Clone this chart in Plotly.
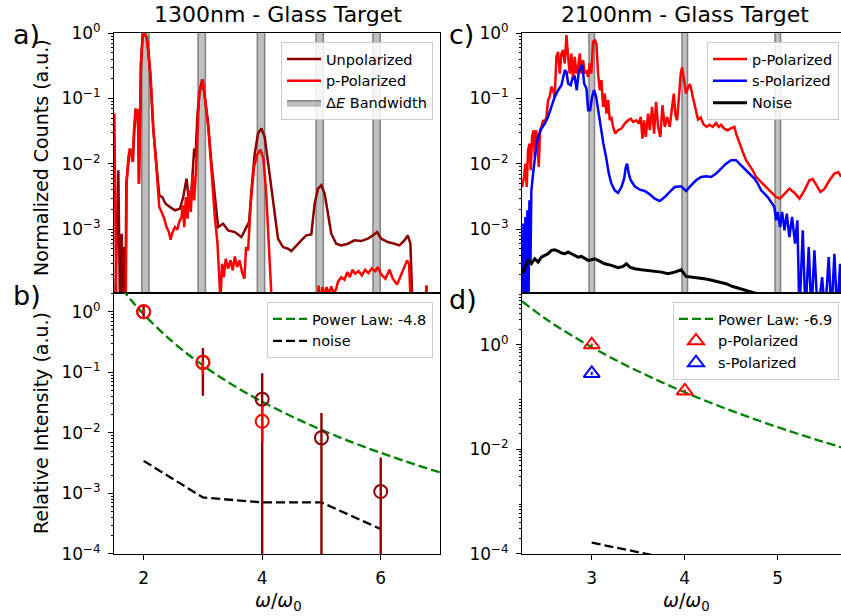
import plotly.graph_objects as go

W, H = 841, 616
FONT = "DejaVu Sans"
DARKRED = "#8b0000"
RED = "#ff0000"
BLUE = "#0000ff"
GREEN = "#008000"
BLACK = "#000000"

# ---------------- Panel a : 1300 nm spectra ----------------
a_unpol_x = [1.517, 1.573, 1.602, 1.630, 1.658, 1.675, 1.691, 1.708, 1.742, 1.770,
             1.798, 1.820, 1.843, 1.865, 1.893, 1.910, 1.921, 1.938, 1.955, 1.983,
             2.022, 2.056, 2.107, 2.163, 2.219, 2.264, 2.314, 2.370, 2.443, 2.528,
             2.612, 2.668, 2.724, 2.763, 2.808, 2.853, 2.875, 2.909, 2.948, 2.988,
             3.033, 3.089, 3.145, 3.201, 3.257, 3.341, 3.425, 3.538, 3.650, 3.734,
             3.779, 3.818, 3.874, 3.930, 3.987, 4.043, 4.099, 4.155, 4.183, 4.211,
             4.267, 4.351, 4.436, 4.492, 4.576, 4.660, 4.744, 4.829, 4.885, 4.941,
             4.997, 5.053, 5.110, 5.166, 5.249, 5.333, 5.446, 5.558, 5.670, 5.782,
             5.867, 5.940, 6.007, 6.120, 6.231, 6.316, 6.400, 6.456, 6.501, 6.540,
             6.748, 6.770, 6.793]
a_unpol_y = [5e-5, 0.00798, 5e-5, 0.000855, 5e-5, 0.000534, 5e-5, 0.00499, 0.0101, 0.0171,
             0.01436, 0.0107, 0.0327, 0.0662, 0.0662, 0.0327, 0.00499, 0.106, 0.343, 0.879,
             0.965, 0.829, 0.271, 0.0327, 0.00798, 0.0033, 0.00311, 0.00246, 0.00219, 0.00195,
             0.00206, 0.00311, 0.00594, 0.00277, 0.00394, 0.0171, 0.01277, 0.0588, 0.134, 0.195,
             0.106, 0.0414, 0.0101, 0.00311, 0.00108, 0.00122, 0.000961, 0.000906, 0.00076, 0.00108,
             0.00129, 0.00394, 0.01436, 0.0291, 0.0347, 0.0258, 0.0101, 0.00394, 0.00246, 0.00154,
             0.000717, 0.000534, 0.000504, 0.000464, 0.000566, 0.000676, 0.000806, 0.000835, 0.00246, 0.00418,
             0.0047, 0.00351, 0.00173, 0.000855, 0.000601, 0.000566, 0.000601, 0.000676, 0.00066, 0.000717,
             0.000806, 0.000906, 0.000717, 0.000637, 0.000601, 0.000566, 0.000676, 0.000806, 0.000601, 5e-5,
             5e-5, 0.000138, 5e-5]

a_ppol_x = [1.506, 1.540, 1.697, 1.714, 1.742, 1.770, 1.798, 1.815, 1.837, 1.865,
            1.893, 1.910, 1.921, 1.938, 1.955, 1.983, 2.011, 2.045, 2.079, 2.118,
            2.163, 2.219, 2.264, 2.303, 2.348, 2.387, 2.426, 2.455, 2.483, 2.528,
            2.567, 2.600, 2.640, 2.662, 2.685, 2.713, 2.741, 2.769, 2.797, 2.825,
            2.853, 2.881, 2.909, 2.937, 2.965, 2.999, 3.044, 3.089, 3.145, 3.201,
            3.246, 3.268, 3.296, 3.324, 3.352, 3.386, 3.425, 3.465, 3.504, 3.538,
            3.577, 3.616, 3.661, 3.700, 3.728, 3.762, 3.807, 3.863, 3.919, 3.970,
            4.020, 4.065, 4.104, 4.138, 4.172, 4.929, 4.952, 4.980, 5.013, 5.053,
            5.087, 5.121, 5.166, 5.211, 5.249, 5.277, 5.333, 5.390, 5.435, 5.479,
            5.524, 5.569, 5.625, 5.681, 5.737, 5.793, 5.849, 5.906, 5.951, 6.007,
            6.080, 6.147, 6.204, 6.276, 6.344, 6.400, 6.445, 6.479, 6.512, 6.754,
            6.770, 6.793]
a_ppol_y = [0.0588, 5e-5, 5e-5, 0.00529, 0.01277, 0.0171, 0.014, 0.0107, 0.0327, 0.0678,
            0.0662, 0.0327, 0.00499, 0.106, 0.343, 0.932, 0.99, 0.879, 0.549, 0.215,
            0.0368, 0.00798, 0.00219, 0.00184, 0.00145, 0.00108, 0.000906, 0.000692, 0.000875, 0.00108,
            0.000984, 0.00129, 0.00154, 0.00232, 0.00108, 0.00311, 0.00145, 0.00394, 0.00184, 0.0071,
            0.00277, 0.0071, 0.0414, 0.126, 0.142, 0.195, 0.0837, 0.0368, 0.00798, 0.00154,
            0.000601, 0.000235, 8e-5, 0.000297, 0.000185, 0.000354, 0.000249, 0.000334, 0.000235, 0.000384,
            0.000264, 0.000334, 0.000221, 0.000175, 0.000534, 0.000475, 0.00246, 0.00897, 0.014, 0.0165,
            0.012, 0.00394, 0.000855, 0.000235, 5e-5, 5e-5, 0.000138, 5e-5, 0.00013, 0.000103,
            0.00013, 0.000103, 0.000134, 0.000103, 0.000123, 0.000156, 0.000185, 0.000169, 0.000221, 0.000185,
            0.00024, 0.000209, 0.000229, 0.000197, 0.00024, 0.000214, 0.000252, 0.000229, 0.000264, 0.000204,
            0.000175, 0.00024, 0.000175, 0.000143, 0.000197, 0.000258, 0.000334, 0.000297, 5e-5, 5e-5,
            0.000138, 5e-5]

a_band_centers = [2.03, 2.98, 3.98, 4.97, 5.93]
a_band_halfwidth = 0.062

# ---------------- Panel b : 1300 nm harmonic intensities ----------------
b_unpol_x = [2, 3, 4, 5, 6]
b_unpol_y = [1.0, 0.146, 0.036, 0.00826, 0.00107]
b_unpol_err = [0.24, 0.105, 0.06, 0.013, 0.00285]
b_ppol_x = [2, 3, 4]
b_ppol_y = [1.0, 0.146, 0.0155]
b_ppol_err_plus = [0.08, 0.01, 0.0125]
b_ppol_err_minus = [0.08, 0.055, 0.0085]
b_fit_x = [1.5, 1.75, 2, 2.5, 3, 3.5, 4, 4.5, 5, 5.5, 6, 6.5, 7]
b_fit_y = [3.6, 1.73, 0.91, 0.312, 0.130, 0.062, 0.0327, 0.0186, 0.0112, 0.00708, 0.00467, 0.00318, 0.00222]
b_noise_x = [2, 3, 4, 5, 6]
b_noise_y = [0.00344, 0.000855, 0.000708, 0.000708, 0.000257]

# ---------------- Panel c : 2100 nm spectra ----------------
c_ppol_x = [2.251, 2.272, 2.287, 2.301, 2.315, 2.330, 2.344, 2.358, 2.373, 2.387,
            2.401, 2.416, 2.430, 2.444, 2.459, 2.477, 2.495, 2.513, 2.530, 2.548,
            2.566, 2.584, 2.602, 2.620, 2.638, 2.656, 2.674, 2.692, 2.710, 2.728,
            2.746, 2.763, 2.781, 2.799, 2.817, 2.835, 2.853, 2.871, 2.889, 2.907,
            2.925, 2.943, 2.961, 2.978, 2.996, 3.014, 3.032, 3.050, 3.068, 3.086,
            3.104, 3.122, 3.140, 3.158, 3.176, 3.194, 3.211, 3.229, 3.254, 3.283,
            3.319, 3.355, 3.391, 3.419, 3.444, 3.480, 3.505, 3.527, 3.545, 3.563,
            3.581, 3.606, 3.624, 3.649, 3.670, 3.692, 3.713, 3.738, 3.760, 3.785,
            3.810, 3.839, 3.864, 3.882, 3.900, 3.918, 3.957, 3.971, 3.993, 4.014,
            4.036, 4.057, 4.086, 4.115, 4.143, 4.172, 4.201, 4.237, 4.265, 4.301,
            4.337, 4.366, 4.391, 4.427, 4.463, 4.498, 4.534, 4.552, 4.581, 4.606,
            4.624, 4.659, 4.695, 4.731, 4.767, 4.821, 4.874, 4.928, 4.982, 5.025,
            5.072, 5.125, 5.179, 5.233, 5.287, 5.340, 5.376, 5.412, 5.459, 5.502,
            5.556, 5.609, 5.652, 5.681]
c_ppol_y = [0.00443, 0.00631, 0.0101, 0.00443, 0.0162, 0.0204, 0.00798, 0.0258, 0.0327, 0.01277,
            0.0327, 0.023, 0.00897, 0.0327, 0.0368, 0.0465, 0.0439, 0.0523, 0.0942, 0.106,
            0.151, 0.134, 0.106, 0.434, 0.518, 0.241, 0.488, 0.549, 0.343, 0.932,
            0.434, 0.241, 0.488, 0.191, 0.434, 0.241, 0.305, 0.488, 0.241, 0.386,
            0.241, 0.271, 0.214, 0.343, 0.241, 0.737, 0.782, 0.695, 0.241, 0.134,
            0.191, 0.0744, 0.119, 0.0588, 0.0942, 0.0465, 0.0523, 0.0368, 0.0291, 0.0327,
            0.0347, 0.0414, 0.0465, 0.0493, 0.0439, 0.0465, 0.0414, 0.0523, 0.0244, 0.0465,
            0.0258, 0.0588, 0.0327, 0.0744, 0.0291, 0.0888, 0.0368, 0.0258, 0.0789, 0.0368,
            0.0523, 0.0368, 0.0744, 0.119, 0.0555, 0.0465, 0.241, 0.298, 0.191, 0.119,
            0.151, 0.166, 0.106, 0.0662, 0.0476, 0.0511, 0.0404, 0.0368, 0.0395, 0.0368,
            0.0423, 0.0368, 0.0395, 0.0343, 0.0327, 0.0351, 0.0368, 0.0291, 0.023, 0.0177,
            0.0152, 0.0114, 0.0095, 0.00798, 0.00631, 0.00529, 0.00443, 0.00372, 0.00311, 0.00294,
            0.00351, 0.00418, 0.00363, 0.00294, 0.00394, 0.00561, 0.00588, 0.00487, 0.00372, 0.00413,
            0.00561, 0.0071, 0.00752, 0.00631]

c_spol_x = [2.255, 2.265, 2.276, 2.287, 2.298, 2.308, 2.319, 2.330, 2.341, 2.351,
            2.369, 2.387, 2.405, 2.423, 2.441, 2.459, 2.495, 2.530, 2.566, 2.602,
            2.638, 2.674, 2.710, 2.728, 2.746, 2.774, 2.792, 2.817, 2.839, 2.860,
            2.882, 2.900, 2.918, 2.943, 2.961, 2.982, 3.004, 3.025, 3.047, 3.068,
            3.097, 3.125, 3.154, 3.183, 3.211, 3.247, 3.283, 3.319, 3.348, 3.366,
            3.380, 3.398, 3.419, 3.462, 3.516, 3.570, 3.624, 3.677, 3.731, 3.785,
            3.839, 3.892, 3.961, 4.014, 4.068, 4.122, 4.176, 4.229, 4.283, 4.337,
            4.391, 4.444, 4.498, 4.552, 4.606, 4.659, 4.713, 4.749, 4.785, 4.821,
            4.857, 4.892, 4.928, 4.964, 4.982, 5.000, 5.025, 5.047, 5.072, 5.097,
            5.125, 5.154, 5.186, 5.211, 5.233, 5.269, 5.298, 5.333, 5.362, 5.394,
            5.430, 5.477, 5.509, 5.548, 5.577, 5.609, 5.638, 5.670, 5.688]
c_spol_y = [5e-5, 0.00122, 5e-5, 0.00154, 5e-5, 0.00195, 5e-5, 0.00277, 0.000297, 0.00394,
            0.0071, 0.01277, 0.0193, 0.0258, 0.0308, 0.0347, 0.0414, 0.0523, 0.0744, 0.106,
            0.134, 0.16, 0.271, 0.256, 0.17, 0.16, 0.202, 0.214, 0.134, 0.256,
            0.305, 0.324, 0.17, 0.142, 0.0662, 0.0662, 0.106, 0.134, 0.106, 0.0662,
            0.0368, 0.0204, 0.01277, 0.0071, 0.00499, 0.00394, 0.00359, 0.00443, 0.00594, 0.00897,
            0.0101, 0.0071, 0.00561, 0.00454, 0.00403, 0.00385, 0.00342, 0.00294, 0.0027, 0.00311,
            0.00372, 0.00443, 0.00454, 0.00385, 0.0047, 0.00561, 0.00631, 0.00646, 0.00631, 0.0071,
            0.00846, 0.0101, 0.0114, 0.0114, 0.0095, 0.00798, 0.00693, 0.00594, 0.00499, 0.00394,
            0.00351, 0.00311, 0.00261, 0.00219, 0.00137, 0.00184, 0.00108, 0.00184, 0.000961, 0.00173,
            0.00076, 0.00154, 0.000601, 0.00137, 5e-5, 0.000961, 5e-5, 0.000534, 5e-5, 0.000475,
            5e-5, 0.000185, 5e-5, 0.000375, 5e-5, 0.000422, 5e-5, 0.000297, 5e-5]

c_noise_x = [2.251, 2.280, 2.315, 2.351, 2.387, 2.423, 2.459, 2.495, 2.530, 2.566,
             2.602, 2.638, 2.674, 2.710, 2.746, 2.781, 2.817, 2.853, 2.889, 2.925,
             2.961, 2.996, 3.032, 3.068, 3.104, 3.140, 3.211, 3.283, 3.337, 3.373,
             3.409, 3.462, 3.534, 3.606, 3.677, 3.749, 3.821, 3.892, 3.961, 4.014,
             4.086, 4.158, 4.229, 4.301, 4.373, 4.444, 4.516, 4.588, 4.659, 4.731,
             4.803, 4.875, 4.982]
c_noise_y = [0.000209, 0.000264, 0.000334, 0.000297, 0.000354, 0.000315, 0.000375, 0.000398, 0.000422, 0.000475,
             0.000486, 0.000464, 0.000432, 0.000422, 0.000448, 0.000422, 0.000398, 0.000375, 0.000384, 0.000354,
             0.000334, 0.000342, 0.000354, 0.000334, 0.000315, 0.000297, 0.00028, 0.000258, 0.00027, 0.000297,
             0.000264, 0.000249, 0.00024, 0.000235, 0.000229, 0.000221, 0.000209, 0.000221, 0.00024, 0.00019,
             0.000185, 0.000181, 0.000173, 0.000165, 0.000156, 0.000147, 0.000133, 0.000123, 0.000116, 0.000108,
             0.000101, 8e-5, 6e-5]

c_band_centers = [3.0, 4.0, 5.0]
c_band_halfwidth = 0.03

# ---------------- Panel d : 2100 nm harmonic intensities ----------------
d_fit_x = [2.25, 2.5, 2.75, 3, 3.25, 3.5, 3.75, 4, 4.25, 4.5, 4.75, 5, 5.25, 5.5, 5.75]
d_fit_y = [6.8, 3.17, 1.64, 0.9, 0.518, 0.311, 0.193, 0.1236, 0.0814, 0.0548, 0.0378, 0.0265, 0.0189, 0.01374, 0.0101]
d_ppol_x = [3, 4]
d_ppol_y = [1.0, 0.131]
d_ppol_err = [0.06, 0.008]
d_spol_x = [3]
d_spol_y = [0.283]
d_spol_err = [0.02]
d_noise_x = [3, 4]
d_noise_y = [0.000164, 0.000071]


def band_polygons(centers, hw, ylo=1e-7, yhi=100.0):
    xs, ys = [], []
    for c in centers:
        xs += [c - hw, c - hw, c + hw, c + hw, c - hw, None]
        ys += [ylo, yhi, yhi, ylo, ylo, None]
    return xs, ys


LW = 2.5
DASH = "9px,4px"
fig = go.Figure()

# ---- panel a ----
bx, by = band_polygons(a_band_centers, a_band_halfwidth)
fig.add_trace(go.Scatter(x=bx, y=by, mode="lines", fill="toself",
                         fillcolor="rgba(128,128,128,0.5)",
                         line=dict(color="rgba(100,100,100,0.75)", width=1.5),
                         name="Δ<i>E</i> Bandwidth", legend="legend", legendrank=3,
                         xaxis="x", yaxis="y", hoverinfo="skip"))
fig.add_trace(go.Scatter(x=a_unpol_x, y=a_unpol_y, mode="lines",
                         line=dict(color=DARKRED, width=LW), name="Unpolarized",
                         legend="legend", legendrank=1, xaxis="x", yaxis="y"))
fig.add_trace(go.Scatter(x=a_ppol_x, y=a_ppol_y, mode="lines",
                         line=dict(color=RED, width=LW), name="p-Polarized",
                         legend="legend", legendrank=2, xaxis="x", yaxis="y"))

# ---- panel c ----
cbx, cby = band_polygons(c_band_centers, c_band_halfwidth)
fig.add_trace(go.Scatter(x=cbx, y=cby, mode="lines", fill="toself",
                         fillcolor="rgba(128,128,128,0.5)",
                         line=dict(color="rgba(100,100,100,0.75)", width=1.5),
                         showlegend=False, xaxis="x2", yaxis="y2", hoverinfo="skip"))
fig.add_trace(go.Scatter(x=c_ppol_x, y=c_ppol_y, mode="lines",
                         line=dict(color=RED, width=LW), name="p-Polarized",
                         legend="legend3", xaxis="x2", yaxis="y2"))
fig.add_trace(go.Scatter(x=c_spol_x, y=c_spol_y, mode="lines",
                         line=dict(color=BLUE, width=LW), name="s-Polarized",
                         legend="legend3", xaxis="x2", yaxis="y2"))
fig.add_trace(go.Scatter(x=c_noise_x, y=c_noise_y, mode="lines",
                         line=dict(color=BLACK, width=3), name="Noise",
                         legend="legend3", xaxis="x2", yaxis="y2"))

# ---- panel b ----
fig.add_trace(go.Scatter(x=b_fit_x, y=b_fit_y, mode="lines", line_shape="spline",
                         line=dict(color=GREEN, width=2.3, dash=DASH),
                         name="Power Law: -4.8", legend="legend2",
                         xaxis="x3", yaxis="y3"))
fig.add_trace(go.Scatter(x=b_noise_x, y=b_noise_y, mode="lines",
                         line=dict(color=BLACK, width=2.3, dash=DASH),
                         name="noise", legend="legend2", xaxis="x3", yaxis="y3"))
fig.add_trace(go.Scatter(x=b_unpol_x, y=b_unpol_y, mode="markers",
                         marker=dict(symbol="circle-open", size=13, color=DARKRED,
                                     line=dict(width=2, color=DARKRED)),
                         error_y=dict(type="data", array=b_unpol_err, symmetric=True,
                                      color=DARKRED, thickness=2.4, width=0),
                         showlegend=False, xaxis="x3", yaxis="y3"))
fig.add_trace(go.Scatter(x=b_ppol_x, y=b_ppol_y, mode="markers",
                         marker=dict(symbol="circle-open", size=13, color=RED,
                                     line=dict(width=2, color=RED)),
                         error_y=dict(type="data", array=b_ppol_err_plus,
                                      arrayminus=b_ppol_err_minus, symmetric=False,
                                      color=RED, thickness=2.4, width=0),
                         showlegend=False, xaxis="x3", yaxis="y3"))

# ---- panel d ----
fig.add_trace(go.Scatter(x=d_fit_x, y=d_fit_y, mode="lines", line_shape="spline",
                         line=dict(color=GREEN, width=2.3, dash=DASH),
                         name="Power Law: -6.9", legend="legend4",
                         xaxis="x4", yaxis="y4"))
fig.add_trace(go.Scatter(x=d_noise_x, y=d_noise_y, mode="lines",
                         line=dict(color=BLACK, width=2.3, dash=DASH),
                         showlegend=False, xaxis="x4", yaxis="y4"))
fig.add_trace(go.Scatter(x=d_ppol_x, y=d_ppol_y, mode="markers",
                         marker=dict(symbol="triangle-up-open", size=14, color=RED,
                                     line=dict(width=2, color=RED)),
                         error_y=dict(type="data", array=d_ppol_err, color=RED,
                                      thickness=2, width=0),
                         name="p-Polarized", legend="legend4", xaxis="x4", yaxis="y4"))
fig.add_trace(go.Scatter(x=d_spol_x, y=d_spol_y, mode="markers",
                         marker=dict(symbol="triangle-up-open", size=14, color=BLUE,
                                     line=dict(width=2, color=BLUE)),
                         error_y=dict(type="data", array=d_spol_err, color=BLUE,
                                      thickness=2, width=0),
                         name="s-Polarized", legend="legend4", xaxis="x4", yaxis="y4"))

# ---------------- layout ----------------
LEFT_DOM = [114 / W, 440 / W]
RIGHT_DOM = [522 / W, 1.0]
TOP_DOM = [1 - 293 / H, 1 - 33 / H]
BOT_DOM = [1 - 554 / H, 1 - 293 / H]

minor_vals = [m * 10 ** e for e in range(-6, 2) for m in range(2, 10)]
sup = {0: "0", -1: "−1", -2: "−2", -3: "−3", -4: "−4"}


def logticks(exps):
    return [10.0 ** e for e in exps], ["10<sup>%s</sup>" % sup[e] for e in exps]


base_ax = dict(showline=True, linecolor="black", linewidth=1, mirror=True,
               showgrid=False, zeroline=False, ticks="outside", ticklen=5,
               tickwidth=1, tickcolor="black", automargin=False,
               tickfont=dict(family=FONT, size=17, color="black"))


def yax(domain, rng, exps, anchor):
    tv, tt = logticks(exps)
    d = dict(base_ax)
    d.update(domain=domain, type="log", range=rng, tickmode="array",
             tickvals=tv, ticktext=tt, anchor=anchor, ticklabelstandoff=4,
             minor=dict(tickmode="array", tickvals=minor_vals, ticks="outside",
                        ticklen=2.5, tickwidth=0.8, tickcolor="black", showgrid=False))
    return d


def xax(domain, rng, anchor, tickvals=None):
    d = dict(base_ax)
    d.update(domain=domain, range=rng, anchor=anchor)
    if tickvals is None:
        d.update(showticklabels=False, ticks="")
    else:
        d.update(tickmode="array", tickvals=tickvals,
                 ticktext=[str(v) for v in tickvals], ticklabelstandoff=4)
    return d


legend_style = dict(bgcolor="rgba(255,255,255,0.85)", bordercolor="#cccccc",
                    borderwidth=1, font=dict(family=FONT, size=14.5, color="black"),
                    xanchor="right", yanchor="top", itemwidth=34, tracegroupgap=0)

ann_font = dict(family=FONT, color="black")
annotations = [
    dict(text="1300nm - Glass Target", x=278 / W, y=1 - 15 / H, font=dict(size=22, **ann_font)),
    dict(text="2100nm - Glass Target", x=685 / W, y=1 - 15 / H, font=dict(size=22, **ann_font)),
    dict(text="a)", x=11 / W, y=1 - 34 / H, xanchor="left", font=dict(size=27, **ann_font)),
    dict(text="b)", x=11 / W, y=1 - 295 / H, xanchor="left", font=dict(size=27, **ann_font)),
    dict(text="c)", x=447 / W, y=1 - 35 / H, xanchor="left", font=dict(size=27, **ann_font)),
    dict(text="d)", x=447 / W, y=1 - 299 / H, xanchor="left", font=dict(size=27, **ann_font)),
    dict(text="Normalized Counts (a.u.)", x=41 / W, y=1 - 158 / H, textangle=-90,
         font=dict(size=19, **ann_font)),
    dict(text="Relative Intensity (a.u.)", x=41 / W, y=1 - 423 / H, textangle=-90,
         font=dict(size=19, **ann_font)),
    dict(text="<i>ω</i>/<i>ω</i><sub>0</sub>", x=278 / W, y=1 - 601 / H,
         font=dict(size=19, **ann_font)),
    dict(text="<i>ω</i>/<i>ω</i><sub>0</sub>", x=686 / W, y=1 - 601 / H,
         font=dict(size=19, **ann_font)),
]
for a in annotations:
    a.setdefault("xanchor", "center")
    a.update(xref="paper", yref="paper", showarrow=False, yanchor="middle")

fig.update_layout(
    width=W, height=H, autosize=False,
    margin=dict(l=0, r=0, t=0, b=0, pad=0, autoexpand=False),
    paper_bgcolor="white", plot_bgcolor="white",
    font=dict(family=FONT, color="black"),
    xaxis=xax(LEFT_DOM, [1.5, 7.0], "y"),
    yaxis=yax(TOP_DOM, [-3.975, 0.002], [0, -1, -2, -3], "x"),
    xaxis2=xax(RIGHT_DOM, [2.25, 5.68], "y2"),
    yaxis2=yax(TOP_DOM, [-3.975, 0.002], [0, -1, -2, -3], "x2"),
    xaxis3=xax(LEFT_DOM, [1.5, 7.0], "y3", [2, 4, 6]),
    yaxis3=yax(BOT_DOM, [-4.002, 0.31], [0, -1, -2, -3, -4], "x3"),
    xaxis4=xax(RIGHT_DOM, [2.25, 5.68], "y4", [3, 4, 5]),
    yaxis4=yax(BOT_DOM, [-4.002, 0.99], [0, -2, -4], "x4"),
    legend=dict(x=433 / W, y=1 - 42 / H, **legend_style),
    legend2=dict(x=433 / W, y=1 - 302 / H, **legend_style),
    legend3=dict(x=839 / W, y=1 - 42 / H, **legend_style),
    legend4=dict(x=839 / W, y=1 - 302 / H, **legend_style),
    annotations=annotations,
    showlegend=True,
)

fig.write_html("out.html", config={"displayModeBar": False},
               post_script="document.body.style.margin='0px';"
                           "document.body.style.overflow='hidden';")
